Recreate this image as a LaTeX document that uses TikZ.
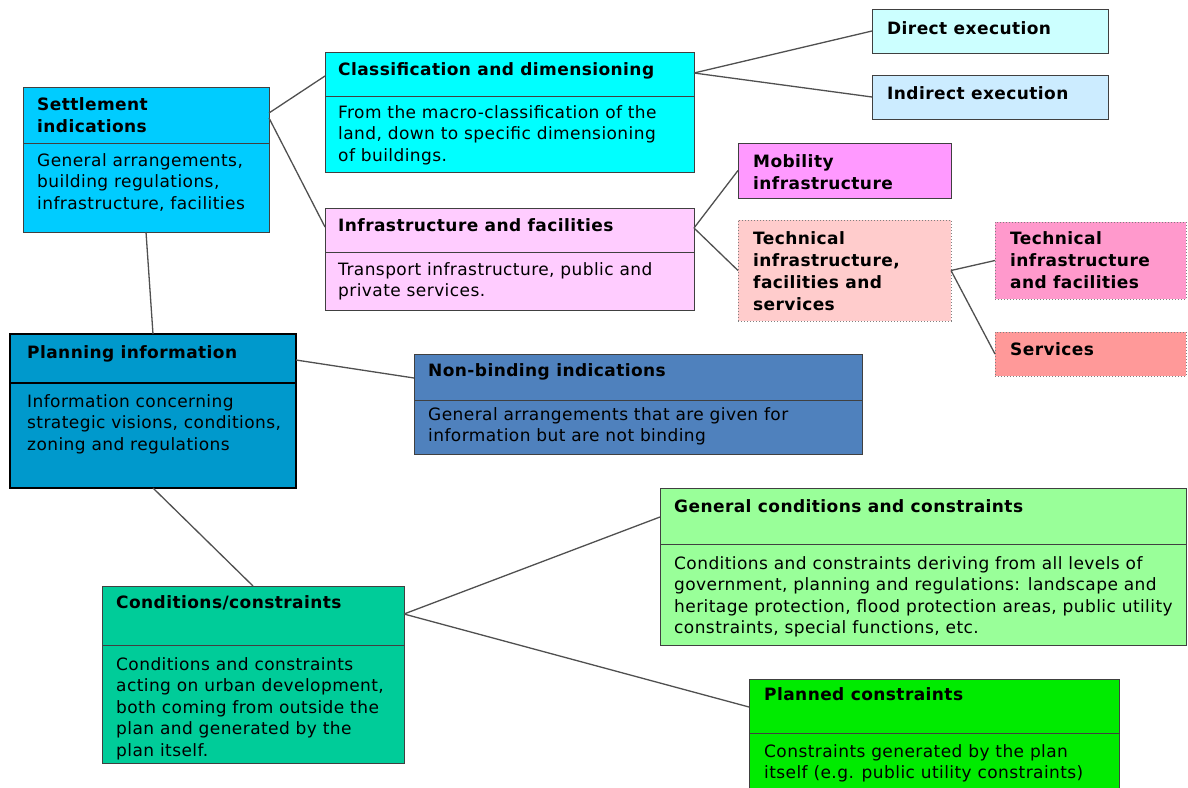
\documentclass[tikz,border=0pt]{standalone}
\usepackage{fontspec}
\setmainfont[LetterSpace=2.5]{DejaVu Sans}
\usetikzlibrary{calc}
\definecolor{boxline}{RGB}{64,64,64}
\definecolor{linkgray}{RGB}{80,80,80}
\definecolor{cSet}{RGB}{0,204,255}
\definecolor{cPlan}{RGB}{0,153,204}
\definecolor{cCls}{RGB}{0,255,255}
\definecolor{cInf}{RGB}{255,204,255}
\definecolor{cDir}{RGB}{204,255,255}
\definecolor{cInd}{RGB}{204,236,255}
\definecolor{cMob}{RGB}{255,153,255}
\definecolor{cTis}{RGB}{255,204,204}
\definecolor{cTif}{RGB}{255,153,204}
\definecolor{cSrv}{RGB}{255,153,153}
\definecolor{cNb}{RGB}{79,129,189}
\definecolor{cGen}{RGB}{153,255,153}
\definecolor{cPln}{RGB}{0,235,0}
\definecolor{cCnd}{RGB}{0,204,153}
\begin{document}
\begin{tikzpicture}[x=1pt,y=-1pt,
  box/.style={draw=boxline, line width=1pt, anchor=north west, inner sep=0pt, outer sep=0pt},
  dotbox/.style={box, draw=gray, dotted},
  thickbox/.style={box, draw=black, line width=2.5pt},
  ttl/.style={anchor=north west, inner sep=0pt, align=left, font=\fontsize{17}{22}\selectfont\bfseries},
  txt/.style={anchor=north west, inner sep=0pt, align=left, font=\fontsize{17}{21.5}\selectfont},
  divider/.style={draw=boxline, line width=1pt},
  link/.style={draw=linkgray, line width=1.3pt}]
\clip (0,0) rectangle (1188,787);
\fill[white] (0,0) rectangle (1188,787);

% Settlement indications
\node[box, fill=cSet, minimum width=246pt, minimum height=145pt] (set) at (23,87) {};
\draw[divider] ([yshift=-56pt]set.north west) -- ([yshift=-56pt]set.north east);
\node[ttl] (setT) at (37,97) {Settlement\\indications};
\node[txt] (setB) at (37,153) {General arrangements,\\building regulations,\\infrastructure, facilities};

% Planning information
\node[thickbox, fill=cPlan, minimum width=286pt, minimum height=154pt] (plan) at (10,334) {};
\draw[divider, draw=black, line width=2pt] ([yshift=-49pt]plan.north west) -- ([yshift=-49pt]plan.north east);
\node[ttl] (planT) at (27,345) {Planning information};
\node[txt] (planB) at (27,394) {Information concerning\\strategic visions, conditions,\\zoning and regulations};

% Classification and dimensioning
\node[box, fill=cCls, minimum width=369pt, minimum height=120pt] (cls) at (325,52) {};
\draw[divider] ([yshift=-44pt]cls.north west) -- ([yshift=-44pt]cls.north east);
\node[ttl] (clsT) at (338,62) {Classification and dimensioning};
\node[txt] (clsB) at (338,105) {From the macro-classification of the\\land, down to specific dimensioning\\of buildings.};

% Infrastructure and facilities
\node[box, fill=cInf, minimum width=369pt, minimum height=102pt] (inf) at (325,208) {};
\draw[divider] ([yshift=-44pt]inf.north west) -- ([yshift=-44pt]inf.north east);
\node[ttl] (infT) at (338,218) {Infrastructure and facilities};
\node[txt] (infB) at (338,262) {Transport infrastructure, public and\\private services.};

% Direct / Indirect execution
\node[box, fill=cDir, minimum width=236pt, minimum height=44pt] (dir) at (872,9) {};
\node[ttl] (dirT) at (887,21) {Direct execution};
\node[box, fill=cInd, minimum width=236pt, minimum height=44pt] (ind) at (872,75) {};
\node[ttl] (indT) at (887,86) {Indirect execution};

% Mobility infrastructure
\node[box, fill=cMob, minimum width=213pt, minimum height=55pt] (mob) at (738,143) {};
\node[ttl] (mobT) at (753,154) {Mobility\\infrastructure};

% Technical infrastructure, facilities and services
\node[dotbox, fill=cTis, minimum width=213pt, minimum height=101pt] (tis) at (738,220) {};
\node[ttl] (tisT) at (753,231) {Technical\\infrastructure,\\facilities and\\services};

% Technical infrastructure and facilities
\node[dotbox, fill=cTif, minimum width=191pt, minimum height=77pt] (tif) at (995,222) {};
\node[ttl] (tifT) at (1010,231) {Technical\\infrastructure\\and facilities};

% Services
\node[dotbox, fill=cSrv, minimum width=191pt, minimum height=44pt] (srv) at (995,332) {};
\node[ttl] (srvT) at (1010,342) {Services};

% Non-binding indications
\node[box, fill=cNb, minimum width=448pt, minimum height=100pt] (nb) at (414,354) {};
\draw[divider] ([yshift=-46pt]nb.north west) -- ([yshift=-46pt]nb.north east);
\node[ttl] (nbT) at (428,363) {Non-binding indications};
\node[txt] (nbB) at (428,407) {General arrangements that are given for\\information but are not binding};

% General conditions and constraints
\node[box, fill=cGen, minimum width=526pt, minimum height=157pt] (gen) at (660,488) {};
\draw[divider] ([yshift=-56pt]gen.north west) -- ([yshift=-56pt]gen.north east);
\node[ttl] (genT) at (674,499) {General conditions and constraints};
\node[txt] (genB) at (674,556) {Conditions and constraints deriving from all levels of\\government, planning and regulations: landscape and\\heritage protection, flood protection areas, public utility\\constraints, special functions, etc.};

% Planned constraints
\node[box, fill=cPln, minimum width=370pt, minimum height=130pt] (pln) at (749,679) {};
\draw[divider] ([yshift=-54pt]pln.north west) -- ([yshift=-54pt]pln.north east);
\node[ttl] (plnT) at (764,687) {Planned constraints};
\node[txt] (plnB) at (764,744) {Constraints generated by the plan\\itself (e.g. public utility constraints)};

% Conditions/constraints
\node[box, fill=cCnd, minimum width=302pt, minimum height=177pt] (cnd) at (102,586) {};
\draw[divider] ([yshift=-59pt]cnd.north west) -- ([yshift=-59pt]cnd.north east);
\node[ttl] (cndT) at (116,595) {Conditions/constraints};
\node[txt] (cndB) at (116,657) {Conditions and constraints\\acting on urban development,\\both coming from outside the\\plan and generated by the\\plan itself.};

% Connectors
\draw[link] ([yshift=-26pt]set.north east) -- ([yshift=-24pt]cls.north west);
\draw[link] ([yshift=-31pt]set.north east) -- ([yshift=-19pt]inf.north west);
\draw[link] (set.south) -- (plan.north);
\draw[link] ([yshift=-26pt]plan.north east) -- ([yshift=-24pt]nb.north west);
\draw[link] (plan.south) -- (cnd.north);
\draw[link] ([yshift=-21pt]cls.north east) -- (dir.west);
\draw[link] ([yshift=-21pt]cls.north east) -- (ind.west);
\draw[link] ([yshift=-20pt]inf.north east) -- (mob.west);
\draw[link] ([yshift=-20pt]inf.north east) -- (tis.west);
\draw[link] (tis.east) -- (tif.west);
\draw[link] (tis.east) -- (srv.west);
\draw[link] ([yshift=-28pt]cnd.north east) -- ([yshift=-29pt]gen.north west);
\draw[link] ([yshift=-28pt]cnd.north east) -- ([yshift=-28pt]pln.north west);
\end{tikzpicture}
\end{document}
